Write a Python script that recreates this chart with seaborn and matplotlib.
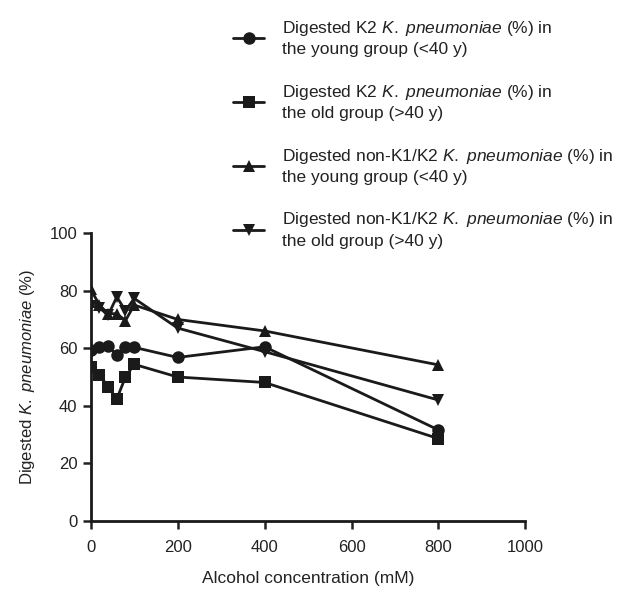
import numpy as np
import pandas as pd
import seaborn as sns
from matplotlib import pyplot as plt

# Data
conc = [0, 20, 40, 60, 80, 100, 200, 400, 800]
k2_young = [59.4, 60.3, 60.6, 57.6, 60.4, 60.3, 56.8, 60.5, 31.6]
k2_old = [53.4, 50.8, 46.6, 42.4, 50.0, 54.4, 50.0, 48.1, 28.6]
nonk_young = [80.5, 75.0, 72.0, 72.0, 69.6, 75.0, 70.0, 66.0, 54.2]
nonk_old = [74.7, 74.0, 71.5, 77.8, 73.0, 77.3, 67.0, 58.8, 42.0]

kp = r'$\mathit{K.}$ $\mathit{pneumoniae}$'
series_names = [
    'Digested K2 ' + kp + ' (%) in\nthe young group (<40 y)',
    'Digested K2 ' + kp + ' (%) in\nthe old group (>40 y)',
    'Digested non-K1/K2 ' + kp + ' (%) in\nthe young group (<40 y)',
    'Digested non-K1/K2 ' + kp + ' (%) in\nthe old group (>40 y)',
]
series_values = [k2_young, k2_old, nonk_young, nonk_old]
markers = ['o', 's', '^', 'v']

rows = []
for name, vals in zip(series_names, series_values):
    for c, v in zip(conc, vals):
        rows.append({'conc': c, 'value': v, 'series': name})
df = pd.DataFrame(rows)

sns.set_style('ticks')
plt.rcParams['font.family'] = ['Liberation Sans', 'DejaVu Sans']
plt.rcParams['mathtext.fontset'] = 'custom'
plt.rcParams['mathtext.rm'] = 'Liberation Sans'
plt.rcParams['mathtext.it'] = 'Liberation Sans:italic'

fig = plt.figure(figsize=(6.3, 5.9), dpi=100)
ax = fig.add_axes([0.144, 0.117, 0.690, 0.488])

sns.lineplot(data=df, x='conc', y='value', hue='series', style='series',
             hue_order=series_names, style_order=series_names,
             palette=['#1a1a1a'] * 4, markers=markers, dashes=False,
             markersize=9, linewidth=2, markeredgewidth=0, ax=ax, legend=True)

ax.set_xlim(0, 1000)
ax.set_ylim(0, 100)
ax.set_xticks(range(0, 1001, 200))
ax.set_yticks(range(0, 101, 20))
ax.set_xlabel('Alcohol concentration (mM)', fontsize=12.5, labelpad=11, color='#222222')
ax.set_ylabel('Digested ' + kp + ' (%)', fontsize=12, labelpad=9, color='#222222')
ax.tick_params(labelsize=12, width=1.8, length=6, colors='#222222')
ax.tick_params(axis='x', pad=8)
for s in ['left', 'bottom']:
    ax.spines[s].set_linewidth(2)
    ax.spines[s].set_color('#1a1a1a')
sns.despine(ax=ax)

handles, labels = ax.get_legend_handles_labels()
ax.get_legend().remove()
leg = fig.legend(handles, labels, loc='upper left', bbox_to_anchor=(0.345, 0.995),
                 frameon=False, fontsize=12.5, labelspacing=1.45, handlelength=1.8,
                 handletextpad=1.0, markerscale=1.0)
for t in leg.get_texts():
    t.set_linespacing(1.4)
    t.set_color('#222222')

plt.savefig('out.png', dpi=100)
